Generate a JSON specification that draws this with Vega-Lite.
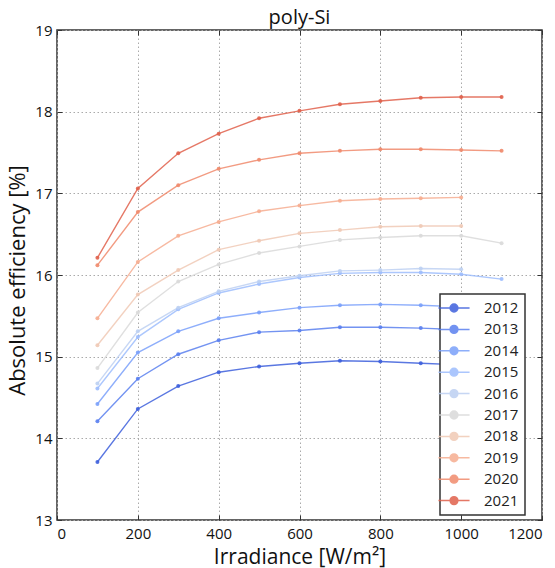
{
  "$schema": "https://vega.github.io/schema/vega-lite/v6.json",
  "width": 485,
  "height": 490,
  "autosize": {"type": "none"},
  "padding": {"left": 57, "top": 30, "right": 13, "bottom": 48},
  "background": "white",
  "title": {"text": "poly-Si", "fontSize": 20, "font": "Open Sans", "fontWeight": "normal", "color": "#111", "offset": -5},
  "config": {
    "view": {"stroke": "#333", "strokeWidth": 1.5},
    "axis": {
      "labelFont": "Open Sans", "labelFontSize": 15, "labelColor": "#111",
      "titleFont": "Open Sans", "titleFontSize": 21, "titleFontWeight": "normal", "titleColor": "#111",
      "grid": true, "gridDash": [1.5, 2.5], "gridColor": "#aaa", "gridWidth": 1,
      "domain": false, "tickSize": -5, "tickColor": "#333", "tickWidth": 1, "format": "d"
    },
    "legend": {
      "orient": "none", "legendX": 383, "legendY": 264,
      "labelFont": "Open Sans", "labelFontSize": 15, "labelColor": "#222",
      "strokeColor": "#333", "strokeWidth": 1.5, "fillColor": "white",
      "padding": 6, "rowPadding": 5.4, "labelOffset": 22
    }
  },
  "data": {"values": [
    {"year": "2012", "irr": 100, "eff": 13.71}, {"year": "2012", "irr": 200, "eff": 14.36}, {"year": "2012", "irr": 300, "eff": 14.64}, {"year": "2012", "irr": 400, "eff": 14.81}, {"year": "2012", "irr": 500, "eff": 14.88}, {"year": "2012", "irr": 600, "eff": 14.92}, {"year": "2012", "irr": 700, "eff": 14.95}, {"year": "2012", "irr": 800, "eff": 14.94}, {"year": "2012", "irr": 900, "eff": 14.92}, {"year": "2012", "irr": 1000, "eff": 14.90},
    {"year": "2013", "irr": 100, "eff": 14.21}, {"year": "2013", "irr": 200, "eff": 14.73}, {"year": "2013", "irr": 300, "eff": 15.03}, {"year": "2013", "irr": 400, "eff": 15.20}, {"year": "2013", "irr": 500, "eff": 15.30}, {"year": "2013", "irr": 600, "eff": 15.32}, {"year": "2013", "irr": 700, "eff": 15.36}, {"year": "2013", "irr": 800, "eff": 15.36}, {"year": "2013", "irr": 900, "eff": 15.35}, {"year": "2013", "irr": 1000, "eff": 15.33},
    {"year": "2014", "irr": 100, "eff": 14.42}, {"year": "2014", "irr": 200, "eff": 15.05}, {"year": "2014", "irr": 300, "eff": 15.31}, {"year": "2014", "irr": 400, "eff": 15.47}, {"year": "2014", "irr": 500, "eff": 15.54}, {"year": "2014", "irr": 600, "eff": 15.60}, {"year": "2014", "irr": 700, "eff": 15.63}, {"year": "2014", "irr": 800, "eff": 15.64}, {"year": "2014", "irr": 900, "eff": 15.63}, {"year": "2014", "irr": 1000, "eff": 15.61},
    {"year": "2015", "irr": 100, "eff": 14.61}, {"year": "2015", "irr": 200, "eff": 15.24}, {"year": "2015", "irr": 300, "eff": 15.58}, {"year": "2015", "irr": 400, "eff": 15.78}, {"year": "2015", "irr": 500, "eff": 15.89}, {"year": "2015", "irr": 600, "eff": 15.97}, {"year": "2015", "irr": 700, "eff": 16.02}, {"year": "2015", "irr": 800, "eff": 16.03}, {"year": "2015", "irr": 900, "eff": 16.03}, {"year": "2015", "irr": 1000, "eff": 16.01}, {"year": "2015", "irr": 1100, "eff": 15.95},
    {"year": "2016", "irr": 100, "eff": 14.67}, {"year": "2016", "irr": 200, "eff": 15.31}, {"year": "2016", "irr": 300, "eff": 15.60}, {"year": "2016", "irr": 400, "eff": 15.80}, {"year": "2016", "irr": 500, "eff": 15.92}, {"year": "2016", "irr": 600, "eff": 15.99}, {"year": "2016", "irr": 700, "eff": 16.05}, {"year": "2016", "irr": 800, "eff": 16.06}, {"year": "2016", "irr": 900, "eff": 16.08}, {"year": "2016", "irr": 1000, "eff": 16.07},
    {"year": "2017", "irr": 100, "eff": 14.86}, {"year": "2017", "irr": 200, "eff": 15.54}, {"year": "2017", "irr": 300, "eff": 15.92}, {"year": "2017", "irr": 400, "eff": 16.13}, {"year": "2017", "irr": 500, "eff": 16.27}, {"year": "2017", "irr": 600, "eff": 16.35}, {"year": "2017", "irr": 700, "eff": 16.43}, {"year": "2017", "irr": 800, "eff": 16.46}, {"year": "2017", "irr": 900, "eff": 16.48}, {"year": "2017", "irr": 1000, "eff": 16.48}, {"year": "2017", "irr": 1100, "eff": 16.39},
    {"year": "2018", "irr": 100, "eff": 15.14}, {"year": "2018", "irr": 200, "eff": 15.76}, {"year": "2018", "irr": 300, "eff": 16.06}, {"year": "2018", "irr": 400, "eff": 16.31}, {"year": "2018", "irr": 500, "eff": 16.42}, {"year": "2018", "irr": 600, "eff": 16.51}, {"year": "2018", "irr": 700, "eff": 16.55}, {"year": "2018", "irr": 800, "eff": 16.59}, {"year": "2018", "irr": 900, "eff": 16.60}, {"year": "2018", "irr": 1000, "eff": 16.60},
    {"year": "2019", "irr": 100, "eff": 15.47}, {"year": "2019", "irr": 200, "eff": 16.16}, {"year": "2019", "irr": 300, "eff": 16.48}, {"year": "2019", "irr": 400, "eff": 16.65}, {"year": "2019", "irr": 500, "eff": 16.78}, {"year": "2019", "irr": 600, "eff": 16.85}, {"year": "2019", "irr": 700, "eff": 16.91}, {"year": "2019", "irr": 800, "eff": 16.93}, {"year": "2019", "irr": 900, "eff": 16.94}, {"year": "2019", "irr": 1000, "eff": 16.95},
    {"year": "2020", "irr": 100, "eff": 16.12}, {"year": "2020", "irr": 200, "eff": 16.77}, {"year": "2020", "irr": 300, "eff": 17.10}, {"year": "2020", "irr": 400, "eff": 17.30}, {"year": "2020", "irr": 500, "eff": 17.41}, {"year": "2020", "irr": 600, "eff": 17.49}, {"year": "2020", "irr": 700, "eff": 17.52}, {"year": "2020", "irr": 800, "eff": 17.54}, {"year": "2020", "irr": 900, "eff": 17.54}, {"year": "2020", "irr": 1000, "eff": 17.53}, {"year": "2020", "irr": 1100, "eff": 17.52},
    {"year": "2021", "irr": 100, "eff": 16.21}, {"year": "2021", "irr": 200, "eff": 17.06}, {"year": "2021", "irr": 300, "eff": 17.49}, {"year": "2021", "irr": 400, "eff": 17.73}, {"year": "2021", "irr": 500, "eff": 17.92}, {"year": "2021", "irr": 600, "eff": 18.01}, {"year": "2021", "irr": 700, "eff": 18.09}, {"year": "2021", "irr": 800, "eff": 18.13}, {"year": "2021", "irr": 900, "eff": 18.17}, {"year": "2021", "irr": 1000, "eff": 18.18}, {"year": "2021", "irr": 1100, "eff": 18.18}
  ]},
  "layer": [
    {
      "mark": {"type": "line", "strokeWidth": 1.4, "opacity": 0.85, "point": {"filled": true, "size": 16, "opacity": 0.9}},
      "encoding": {
        "x": {"field": "irr", "type": "quantitative", "scale": {"domain": [0, 1200], "nice": false},
              "axis": {"title": "Irradiance [W/m²]", "values": [0, 200, 400, 600, 800, 1000, 1200], "labelPadding": 11, "titlePadding": 5}},
        "y": {"field": "eff", "type": "quantitative", "scale": {"domain": [13, 19], "nice": false, "zero": false},
              "axis": {"title": "Absolute efficiency [%]", "titleFontSize": 22, "titleY": 250, "values": [13, 14, 15, 16, 17, 18, 19], "labelPadding": 10, "titlePadding": 5}},
        "color": {"field": "year", "type": "nominal",
                  "scale": {"domain": ["2012","2013","2014","2015","2016","2017","2018","2019","2020","2021"],
                            "range": ["#3d5fdc","#5a80ef","#7aa0fa","#9dbdfd","#bdd0f2","#d9d9d9","#f0c9b5","#f6ad90","#f08a6c","#e0604b"]},
                  "legend": {"title": null, "symbolType": "M-2.2,0L2.2,0M0.55,0A0.55,0.55,0,1,1,-0.55,0A0.55,0.55,0,1,1,0.55,0Z",
                             "symbolSize": 200, "symbolStrokeWidth": 1.5, "symbolOpacity": 0.85,
                             "encode": {"symbols": {"update": {"fill": {"scale": "color", "field": "value"}}}}}}
      }
    },
    {
      "mark": {"type": "point", "opacity": 0},
      "encoding": {
        "x": {"field": "irr", "type": "quantitative", "scale": {"domain": [0, 1200], "nice": false},
              "axis": {"orient": "top", "title": null, "labels": false, "grid": false, "values": [0, 200, 400, 600, 800, 1000, 1200]}},
        "y": {"field": "eff", "type": "quantitative", "scale": {"domain": [13, 19], "nice": false, "zero": false},
              "axis": {"orient": "right", "title": null, "labels": false, "grid": false, "values": [13, 14, 15, 16, 17, 18, 19]}}
      }
    }
  ],
  "resolve": {"scale": {"x": "independent", "y": "independent"}}
}
